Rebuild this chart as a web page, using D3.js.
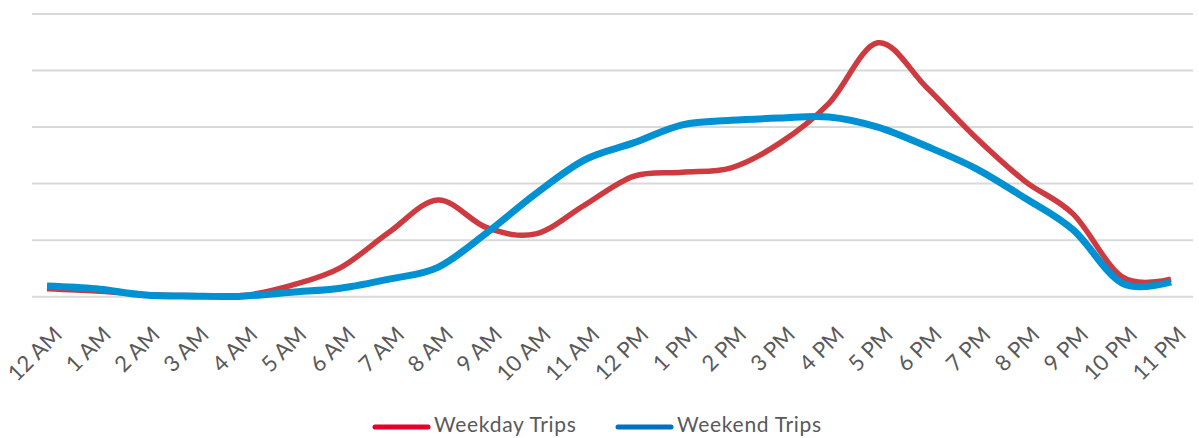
<!DOCTYPE html>
<html>
<head>
<meta charset="utf-8">
<script src="https://cdn.jsdelivr.net/npm/d3@7"></script>
<style>
  html, body { margin: 0; padding: 0; background: #ffffff; }
  svg { display: block; }
  text { font-family: Lato, "Open Sans", sans-serif; fill: #595959; }
</style>
</head>
<body>
<svg id="chart" width="1199" height="438"></svg>
<script>
// Hourly trip counts (relative units), midnight through 11 PM
const hours = ["12 AM","1 AM","2 AM","3 AM","4 AM","5 AM","6 AM","7 AM","8 AM","9 AM","10 AM","11 AM",
               "12 PM","1 PM","2 PM","3 PM","4 PM","5 PM","6 PM","7 PM","8 PM","9 PM","10 PM","11 PM"];
const weekdayTrips = [14, 10, 4, 2, 2, 20, 51, 114, 171, 122, 111, 162,
                      213, 220, 228, 272, 342, 449, 370, 282, 205, 146, 35, 31];
const weekendTrips = [19, 14, 3, 1, 1, 8, 15, 31, 52, 113, 182, 242,
                      272, 304, 312, 316, 318, 300, 266, 227, 175, 118, 24, 26];
const gridTicks = [0, 100, 200, 300, 400, 500];
const seriesNames = ["Weekday Trips", "Weekend Trips"];

const lineColors = ["#cd3a40", "#0091d3"];
const legendColors = ["#e4002b", "#0070c0"];

const svg = d3.select("#chart");
const gridLeft = 32, gridRight = 1193;

const x = d3.scalePoint().domain(hours).range([47, 1171]);
const y = d3.scaleLinear().domain([0, 500]).range([296.7, 14]);

// horizontal gridlines
svg.append("g")
  .selectAll("line")
  .data(gridTicks)
  .join("line")
  .attr("x1", gridLeft).attr("x2", gridRight)
  .attr("y1", d => y(d)).attr("y2", d => y(d))
  .attr("stroke", "#d9d9d9")
  .attr("stroke-width", 2);

// category axis labels, rotated
const xAxis = d3.axisBottom(x).tickSize(0).tickPadding(0);
const gx = svg.append("g").call(xAxis);
gx.select(".domain").remove();
gx.selectAll(".tick text")
  .attr("font-size", 22)
  .attr("font-family", "Lato, 'Open Sans', sans-serif")
  .attr("fill", "#595959")
  .attr("text-anchor", "end")
  .attr("dy", null)
  .attr("y", null)
  .attr("transform", "translate(16,336) rotate(-45)");

// series lines
const line = d3.line()
  .x((d, i) => x(hours[i]))
  .y(d => y(d))
  .curve(d3.curveCardinal.tension(0));

svg.append("path")
  .datum(weekdayTrips)
  .attr("d", line)
  .attr("fill", "none")
  .attr("stroke", lineColors[0])
  .attr("stroke-width", 5.5)
  .attr("stroke-linejoin", "round");

svg.append("path")
  .datum(weekendTrips)
  .attr("d", line)
  .attr("fill", "none")
  .attr("stroke", lineColors[1])
  .attr("stroke-width", 7)
  .attr("stroke-linejoin", "round");

// legend
const legendItems = [
  { name: seriesNames[0], color: legendColors[0], x0: 373 },
  { name: seriesNames[1], color: legendColors[1], x0: 616 }
];
const lg = svg.append("g");
legendItems.forEach(item => {
  lg.append("line")
    .attr("x1", item.x0 + 2).attr("x2", item.x0 + 55)
    .attr("y1", 427).attr("y2", 427)
    .attr("stroke", item.color)
    .attr("stroke-width", 5)
    .attr("stroke-linecap", "round");
  lg.append("text")
    .attr("x", item.x0 + 61)
    .attr("y", 432)
    .attr("font-size", 21)
    .attr("letter-spacing", 0.7)
    .text(item.name);
});
</script>
</body>
</html>
